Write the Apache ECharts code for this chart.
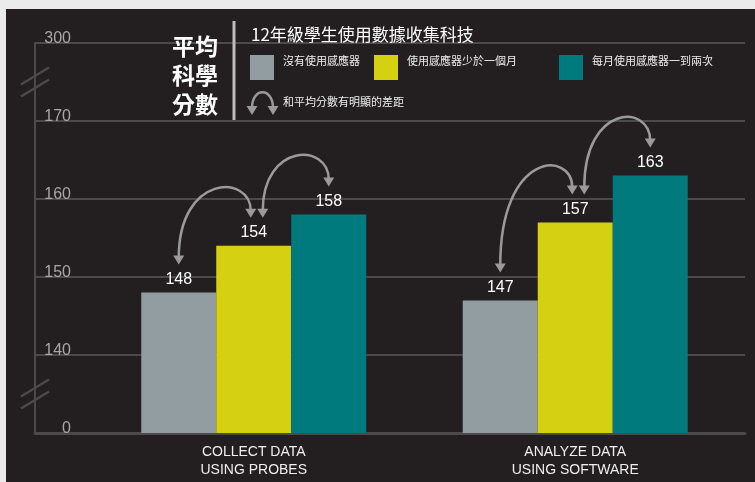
<!DOCTYPE html>
<html>
<head>
<meta charset="utf-8">
<script src="https://cdn.jsdelivr.net/npm/echarts@6/dist/echarts.min.js"></script>
<style>
  html, body { margin: 0; padding: 0; background: #ebebec; }
  #panel { position: absolute; left: 6px; top: 9px; width: 749px; height: 473px; background: #231f20; }
  #chart { position: absolute; left: 0; top: 0; width: 755px; height: 482px; }
</style>
</head>
<body>
<div id="panel"></div>
<div id="chart"></div>
<script>
// data
var categories = ['COLLECT DATA\nUSING PROBES', 'ANALYZE DATA\nUSING SOFTWARE'];
var seriesNames = ['沒有使用感應器', '使用感應器少於一個月', '每月使用感應器一到兩次'];
var noSensor = [148, 147];
var underMonth = [154, 157];
var monthly = [158, 163];
// broken axis: 130 is drawn as "0", 180 as "300"
var tickValues = [130, 140, 150, 160, 170, 180];
var tickLabels = ['0', '140', '150', '160', '170', '300'];
// arrows between bars (series index pairs), same in both groups
var arrowPairs = [[0, 1], [1, 2]];

var chart = echarts.init(document.getElementById('chart'));
var latin = "'Liberation Sans', 'Noto Sans CJK TC', sans-serif";
var cjk = "'Noto Sans CJK TC', sans-serif";
var colors = ['#929da2', '#d5d112', '#007a7c'];
var seriesData = [noSensor, underMonth, monthly];
var axisGrey = '#4b4a4b';
var arrowGrey = '#9a9a9a';
var barWidth = 75;

function legendFor(i, left) {
  return {
    show: true,
    selectedMode: false,
    data: [seriesNames[i]],
    left: left,
    top: 55,
    padding: 0,
    itemWidth: 24,
    itemHeight: 25,
    icon: 'rect',
    formatter: '{t|{name}}',
    textStyle: {
      color: '#eeeeee', fontSize: 11, fontFamily: cjk,
      rich: { t: { color: '#eeeeee', fontSize: 11, fontFamily: cjk, padding: [0, 0, 13, 4] } }
    }
  };
}

var option = {
  animation: false,
  textStyle: { fontFamily: latin },
  title: [
    {
      text: '平均\n科學\n分數', left: 172, top: 32, padding: 0,
      textStyle: { color: '#ffffff', fontSize: 23, fontWeight: 'bold', lineHeight: 29, fontFamily: cjk }
    },
    {
      text: '12年級學生使用數據收集科技', left: 251, top: 25, padding: 0,
      textStyle: { color: '#ffffff', fontSize: 17, fontWeight: 'normal', lineHeight: 20, fontFamily: cjk }
    },
    {
      text: '和平均分數有明顯的差距', left: 283, top: 96, padding: 0,
      textStyle: { color: '#eeeeee', fontSize: 11, fontWeight: 'normal', fontFamily: cjk }
    }
  ],
  legend: [legendFor(0, 250), legendFor(1, 374), legendFor(2, 559)],
  grid: [
    { left: 93, right: 19, top: 43, bottom: 49, outerBoundsMode: 'none' },
    { left: 35, right: 10, top: 43, bottom: 49, outerBoundsMode: 'none' }
  ],
  xAxis: [
    {
      type: 'category', gridIndex: 0, data: categories,
      axisLine: { show: false }, axisTick: { show: false },
      axisLabel: { color: '#eeeeee', fontSize: 14, lineHeight: 18, margin: 10, fontFamily: latin }
    },
    {
      type: 'category', gridIndex: 1, data: [''],
      axisLine: { show: true, lineStyle: { color: axisGrey, width: 3 } },
      axisTick: { show: false }, axisLabel: { show: false }
    }
  ],
  yAxis: [
    { type: 'value', gridIndex: 0, min: 130, max: 180, interval: 10, show: false },
    {
      type: 'value', gridIndex: 1, min: 130, max: 180, interval: 10,
      axisLine: { show: true, lineStyle: { color: axisGrey, width: 2 } },
      axisTick: { show: false },
      splitLine: { show: true, lineStyle: { color: axisGrey, width: 2 } },
      axisLabel: {
        inside: true, margin: 36, align: 'right', verticalAlign: 'middle',
        color: '#a7a7a7', fontSize: 16, showMinLabel: true, showMaxLabel: true,
        formatter: function (v) { return '{t|' + tickLabels[tickValues.indexOf(v)] + '}'; },
        rich: { t: { color: '#a7a7a7', fontSize: 16, fontFamily: latin, padding: [0, 0, 9, 0] } }
      }
    }
  ],
  series: seriesData.map(function (d, i) {
    return {
      name: seriesNames[i],
      type: 'bar',
      xAxisIndex: 0,
      yAxisIndex: 0,
      data: d,
      barWidth: barWidth,
      barGap: '0%',
      itemStyle: { color: colors[i] },
      label: { show: true, position: 'top', distance: 5, color: '#ffffff', fontSize: 16, fontFamily: latin }
    };
  })
};

chart.setOption(option);

// annotations: curved double-headed arrows, axis breaks, legend divider
var graphics = [];

function head(x, y) {
  graphics.push({
    type: 'polygon', z: 100,
    shape: { points: [[x, y], [x - 5.5, y - 9], [x + 5.5, y - 9]] },
    style: { fill: arrowGrey }
  });
}

function arrow(x1, y1, x2, y2, c) {
  graphics.push({
    type: 'bezierCurve', z: 100,
    shape: { x1: x1, y1: y1 - 7, cpx1: x1, cpy1: c, cpx2: x2, cpy2: c, x2: x2, y2: y2 - 7 },
    style: { stroke: arrowGrey, lineWidth: 2.5, fill: null }
  });
  head(x1, y1);
  head(x2, y2);
}

function pt(c, v) {
  return chart.convertToPixel({ xAxisIndex: 0, yAxisIndex: 0 }, [c, v]);
}

categories.forEach(function (cat, ci) {
  arrowPairs.forEach(function (p) {
    var a = p[0], b = p[1];
    var pa = pt(ci, seriesData[a][ci]);
    var pb = pt(ci, seriesData[b][ci]);
    var xa = pa[0] + (a - 1) * barWidth + (a === 1 ? 9 : 0);
    var xb = pb[0] + (b - 1) * barWidth + (b === 1 ? -3 : 0);
    var ya = pa[1] - 28;
    var yb = pb[1] - 28;
    arrow(xa, ya, xb, yb, Math.min(ya, yb) - 44);
  });
});

// legend icon for the arrows
arrow(252, 115, 273, 115, 87);

// axis break marks
function yPix(v) {
  return chart.convertToPixel({ xAxisIndex: 1, yAxisIndex: 1 }, [0, v])[1];
}
var axisX = 35;
[[170, 180], [130, 140]].forEach(function (r) {
  var yc = (yPix(r[0]) + yPix(r[1])) / 2;
  [-6, 6].forEach(function (off) {
    graphics.push({
      type: 'line', z: 100,
      shape: { x1: axisX - 14, y1: yc + off + 8.5, x2: axisX + 14, y2: yc + off - 8.5 },
      style: { stroke: axisGrey, lineWidth: 2.5 }
    });
  });
});

// divider between the big title and the legend block
graphics.push({
  type: 'line', z: 100,
  shape: { x1: 234, y1: 21, x2: 234, y2: 120 },
  style: { stroke: '#bdbdbd', lineWidth: 3 }
});

chart.setOption({ graphic: graphics });
</script>
</body>
</html>
